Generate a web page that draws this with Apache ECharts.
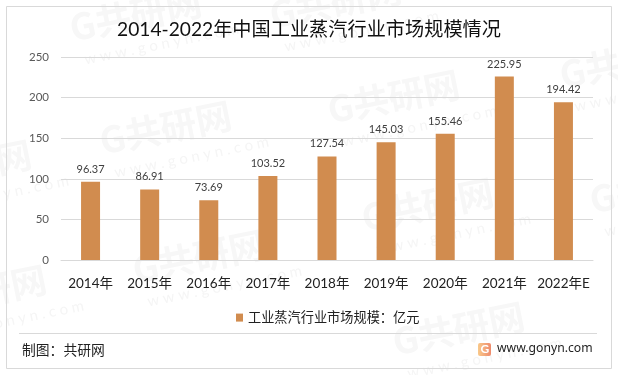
<!DOCTYPE html>
<html>
<head>
<meta charset="utf-8">
<script src="https://cdn.jsdelivr.net/npm/echarts@6/dist/echarts.min.js"></script>
<style>
html,body{margin:0;padding:0;background:#fff;}
#main{width:618px;height:375px;}
</style>
</head>
<body>
<div id="main"></div>
<script type="text/javascript">
var categories = ['2014年','2015年','2016年','2017年','2018年','2019年','2020年','2021年','2022年E'];
var marketSize = [96.37,86.91,73.69,103.52,127.54,145.03,155.46,225.95,194.42];
var seriesName = '工业蒸汽行业市场规模：亿元';
var titleText = '2014-2022年中国工业蒸汽行业市场规模情况';
var yTicks = {min:0, max:250, interval:50};
var fontName = 'Lato, "Noto Sans CJK SC", sans-serif';

// 水印
var marks = [[70,28],[100,141],[133,270],[328,110],[362,218],[393,342],[560,75],[590,200],[270,15],[-100,180],[-85,305]];
var graphics = [];
marks.forEach(function(p){
	graphics.push({
		type:'group', x:p[0], y:p[1], rotation:0.2, silent:true, z:0,
		children:[
			{type:'text', x:0, y:0, silent:true,
				style:{text:'G共研网', fill:'#f7f7f7', font:'bold 36px "Noto Sans CJK SC"', textVerticalAlign:'middle'}},
			{type:'text', x:8, y:34, silent:true,
				style:{text:'w w w . g o n y n . c o m', fill:'#f5f5f5', font:'15px Lato', textVerticalAlign:'middle'}}
		]
	});
});
// 外框和分隔线
graphics.push({type:'rect', shape:{x:6.5,y:6.5,width:605,height:362}, silent:true, z:1,
	style:{fill:'none', stroke:'#d9d9d9', lineWidth:1}});
graphics.push({type:'line', shape:{x1:19,y1:333.5,x2:597,y2:333.5}, silent:true, z:1,
	style:{stroke:'#d9d9d9', lineWidth:1}});
graphics.push({type:'text', x:22, y:343, z:2,
	style:{text:'制图：共研网', fill:'#222', font:'13.8px "Noto Sans CJK SC"'}});
graphics.push({type:'rect', shape:{x:478,y:343,width:13,height:13,r:2}, z:2,
	style:{fill:{type:'linear',x:0,y:0,x2:1,y2:0,colorStops:[{offset:0,color:'#f9c98a'},{offset:1,color:'#ee8a6c'}]}}});
graphics.push({type:'text', x:480.5, y:343, z:3,
	style:{text:'G', fill:'#fff', font:'bold 12px Lato'}});
graphics.push({type:'text', x:497, y:343, z:2,
	style:{text:'www.gonyn.com', fill:'#222', font:'12.2px "Noto Sans"'}});

var chart = echarts.init(document.getElementById('main'), null, {renderer:'canvas'});
chart.setOption({
	animation:false,
	backgroundColor:'#fff',
	textStyle:{fontFamily:fontName},
	title:{
		text:titleText, left:'center', top:15,
		textStyle:{fontSize:19.2, fontWeight:'normal', color:'#111', fontFamily:fontName}
	},
	legend:{
		data:[seriesName], left:231, top:306, itemWidth:7, itemHeight:8, itemGap:4,
		icon:'rect',
		textStyle:{fontSize:13.2, color:'#222', fontFamily:fontName}
	},
	grid:{left:61, right:25, top:57, bottom:115},
	xAxis:{
		type:'category', data:categories,
		axisTick:{show:false},
		axisLine:{lineStyle:{color:'#d9d9d9'}},
		axisLabel:{fontSize:13.5, color:'#222', margin:17, interval:0, fontFamily:fontName}
	},
	yAxis:{
		type:'value', min:yTicks.min, max:yTicks.max, interval:yTicks.interval,
		axisLine:{show:false}, axisTick:{show:false},
		splitLine:{lineStyle:{color:'#d9d9d9'}},
		axisLabel:{fontSize:11.5, color:'#595959', margin:12, fontFamily:fontName}
	},
	series:[{
		name:seriesName, type:'bar', data:marketSize, barWidth:19, z:5,
		itemStyle:{color:'#d18c4f'},
		label:{show:true, position:'top', distance:7, fontSize:11, color:'#404040', fontFamily:fontName}
	}],
	graphic:graphics
});
</script>
</body>
</html>
